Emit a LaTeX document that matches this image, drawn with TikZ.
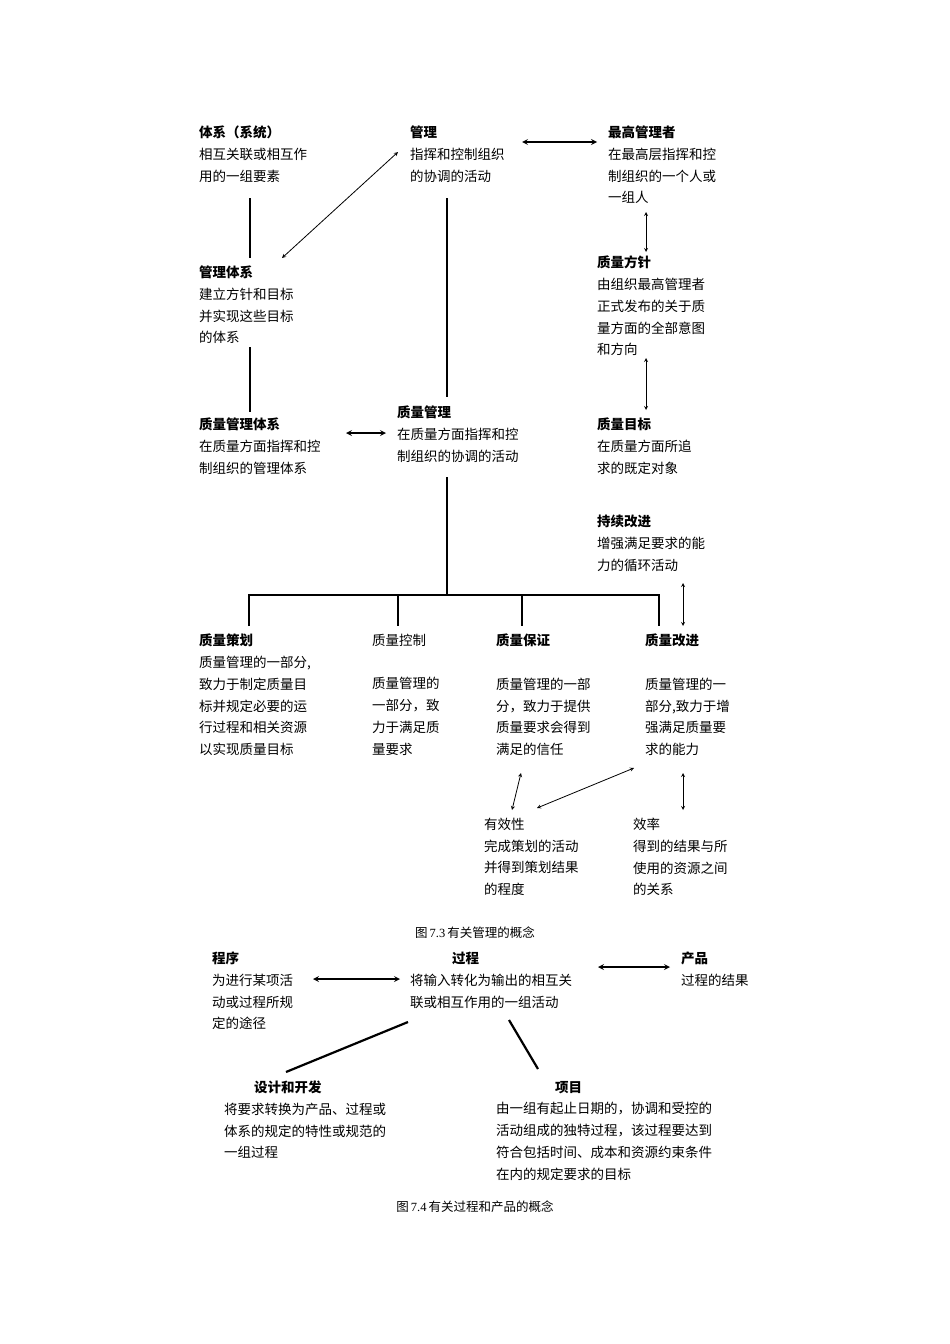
\documentclass[tikz,border=0pt]{standalone}
\usepackage{fontspec}
\setmainfont{Noto Sans CJK SC}
\newfontfamily\capfont{Liberation Serif}
\begin{document}
\begin{tikzpicture}[x=1pt,y=-1pt,
 blk/.style={anchor=north west,inner sep=0pt,align=left,font=\fontsize{13.5}{21.7}\selectfont},
 captxt/.style={inner sep=0pt,font=\fontsize{12.5}{15}\selectfont},
 thk/.style={line width=2.2pt},
 thn/.style={line width=0.8pt,<->,>=stealth},
 tha/.style={line width=1.6pt,<->,>=stealth}]
\path[use as bounding box] (0,0) rectangle (950,1344);
\node[blk] (tx) at (199,126) {\textbf{体系（系统）}\\相互关联或相互作\\用的一组要素};
\node[blk] (gl) at (410,126) {\textbf{管理}\\指挥和控制组织\\的协调的活动};
\node[blk] (zg) at (608,126) {\textbf{最高管理者}\\在最高层指挥和控\\制组织的一个人或\\一组人};
\node[blk] (gltx) at (199,266) {\textbf{管理体系}\\建立方针和目标\\并实现这些目标\\的体系};
\node[blk] (fz) at (597,256) {\textbf{质量方针}\\由组织最高管理者\\正式发布的关于质\\量方面的全部意图\\和方向};
\node[blk] (zltx) at (199,418) {\textbf{质量管理体系}\\在质量方面指挥和控\\制组织的管理体系};
\node[blk] (zlgl) at (397,406) {\textbf{质量管理}\\在质量方面指挥和控\\制组织的协调的活动};
\node[blk] (mb) at (597,418) {\textbf{质量目标}\\在质量方面所追\\求的既定对象};
\node[blk] (cx) at (597,515) {\textbf{持续改进}\\增强满足要求的能\\力的循环活动};
\node[blk] (ch) at (199,634) {\textbf{质量策划}\\质量管理的一部分,\\致力于制定质量目\\标并规定必要的运\\行过程和相关资源\\以实现质量目标};
\node[blk] (kz) at (372,634) {质量控制\\[21.7pt]质量管理的\\一部分，致\\力于满足质\\量要求};
\node[blk] (bz) at (496,634) {\textbf{质量保证}\\[21.7pt]质量管理的一部\\分，致力于提供\\质量要求会得到\\满足的信任};
\node[blk] (gj) at (645,634) {\textbf{质量改进}\\[21.7pt]质量管理的一\\部分,致力于增\\强满足质量要\\求的能力};
\node[blk] (yx) at (484,818) {有效性\\完成策划的活动\\并得到策划结果\\的程度};
\node[blk] (xl) at (633,818) {效率\\得到的结果与所\\使用的资源之间\\的关系};
\node[captxt] (c1) at (475,933) {图{\capfont\,7.3\,}有关管理的概念};
\node[blk] (cx2) at (212,952) {\textbf{程序}\\为进行某项活\\动或过程所规\\定的途径};
\node[blk] (gc) at (410,952) {\hspace*{42pt}\textbf{过程}\\将输入转化为输出的相互关\\联或相互作用的一组活动};
\node[blk] (cp) at (681,952) {\textbf{产品}\\过程的结果};
\node[blk] (sj) at (224,1081) {\hspace*{30pt}\textbf{设计和开发}\\将要求转换为产品、过程或\\体系的规定的特性或规范的\\一组过程};
\node[blk] (xm) at (496,1081) {\hspace*{59pt}\textbf{项目}\\由一组有起止日期的，协调和受控的\\活动组成的独特过程，该过程要达到\\符合包括时间、成本和资源约束条件\\在内的规定要求的目标};
\node[captxt] (c2) at (475,1207) {图{\capfont\,7.4\,}有关过程和产品的概念};
% connectors
\coordinate (a1) at (250,198); \coordinate (a2) at (250,258);
\coordinate (a3) at (250,347); \coordinate (a4) at (250,412);
\draw[thk] (a1)--(a2); \draw[thk] (a3)--(a4);
\coordinate (b1) at (282,258); \coordinate (b2) at (398,152);
\draw[thn] (b1)--(b2);
\coordinate (d1) at (522,142); \coordinate (d2) at (597,142);
\draw[tha] (d1)--(d2);
\coordinate (e1) at (447,198); \coordinate (e2) at (447,397);
\draw[thk] (e1)--(e2);
\coordinate (e3) at (447,477); \coordinate (e4) at (447,595);
\draw[thk] (e3)--(e4);
\coordinate (f1) at (646,212); \coordinate (f2) at (646,252);
\draw[thn] (f1)--(f2);
\coordinate (f3) at (646,358); \coordinate (f4) at (646,410);
\draw[thn] (f3)--(f4);
\coordinate (g1) at (346,433); \coordinate (g2) at (386,433);
\draw[tha] (g1)--(g2);
\coordinate (h1) at (249,626); \coordinate (h2) at (659,626);
\draw[thk] (h1)|-(447,595)-|(h2);
\coordinate (h3) at (398,595); \coordinate (h4) at (398,626);
\coordinate (h5) at (522,595); \coordinate (h6) at (522,626);
\draw[thk] (h3)--(h4); \draw[thk] (h5)--(h6);
\coordinate (i1) at (683,583); \coordinate (i2) at (683,626);
\draw[thn] (i1)--(i2);
\coordinate (j1) at (521,773); \coordinate (j2) at (512,810);
\draw[thn] (j1)--(j2);
\coordinate (k1) at (537,808); \coordinate (k2) at (634,768);
\draw[thn] (k1)--(k2);
\coordinate (l1) at (683,773); \coordinate (l2) at (683,810);
\draw[thn] (l1)--(l2);
\coordinate (m1) at (313,979); \coordinate (m2) at (400,979);
\draw[tha] (m1)--(m2);
\coordinate (n1) at (598,967); \coordinate (n2) at (670,967);
\draw[tha] (n1)--(n2);
\coordinate (o1) at (408,1022); \coordinate (o2) at (286,1072);
\draw[thk] (o1)--(o2);
\coordinate (p1) at (509,1020); \coordinate (p2) at (538,1069);
\draw[thk] (p1)--(p2);
\end{tikzpicture}
\end{document}
